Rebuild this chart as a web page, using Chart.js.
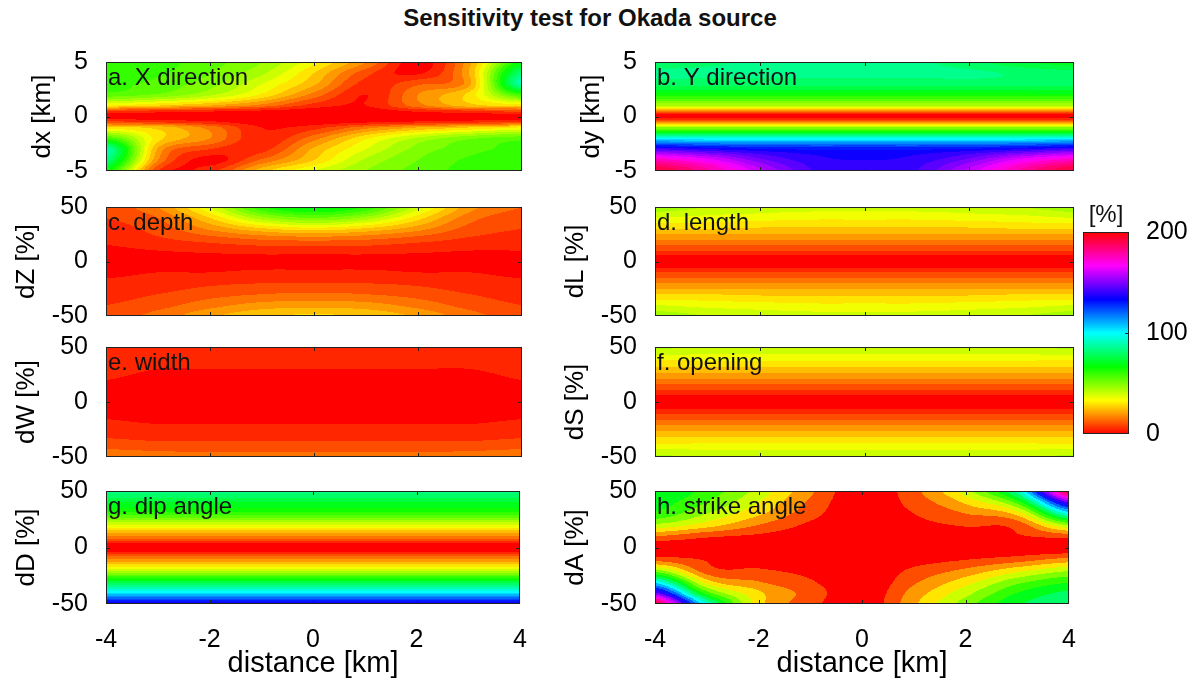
<!DOCTYPE html>
<html>
<head>
<meta charset="utf-8">
<script src="https://cdn.jsdelivr.net/npm/chart.js@4.4.0/dist/chart.umd.min.js"></script>
<style>
  body { margin: 0; background: #fff; width: 1197px; height: 691px; position: relative; overflow: hidden;
         font-family: "Liberation Sans", Arial, sans-serif; }
  canvas { position: absolute; }
  #title { position: absolute; left: 0; width: 1180px; top: 4px; text-align: center;
           font-weight: bold; font-size: 24px; color: #111; }
</style>
</head>
<body>
<div id="title">Sensitivity test for Okada source</div>
<script>
// grid axes
const distanceKm = [-4, -3, -2, -1, 0, 1, 2, 3, 4];
const offsetKm = [5, 4, 3, 2, 1, 0.5, 0, -0.5, -1, -2, -3, -4, -5];
const offsetPct = [50, 40, 30, 20, 10, 0, -10, -20, -30, -40, -50];
const distanceTicks = [-4, -2, 0, 2, 4];
const colorTicks = [0, 100, 200];

// misfit [%], rows top -> bottom, columns x = -4 .. 4
const xDirection = [
  [65, 62, 57, 50, 36, 20, 2, 24, 70],
  [64, 61, 55, 46, 30, 12, 4, 26, 85],
  [62, 58, 52, 40, 26, 8, 14, 24, 92],
  [58, 54, 46, 34, 18, 5, 20, 32, 62],
  [35, 30, 25, 18, 8, 5, 18, 28, 32],
  [10, 8, 6, 4, 2, 2, 6, 9, 12],
  [2, 2, 2, 1, 0, 1, 2, 2, 2],
  [12, 9, 6, 2, 2, 4, 6, 8, 10],
  [32, 28, 18, 5, 8, 18, 25, 30, 35],
  [62, 32, 20, 6, 18, 34, 46, 54, 58],
  [92, 24, 10, 8, 26, 40, 52, 58, 62],
  [85, 20, 3, 16, 30, 46, 55, 61, 64],
  [70, 10, 8, 28, 40, 50, 57, 62, 65]
];
const yDirection = [
  [82, 84, 86, 86, 86, 86, 82, 76, 72],
  [86, 86, 86, 86, 86, 86, 86, 84, 82],
  [82, 82, 82, 82, 82, 82, 82, 82, 82],
  [68, 68, 68, 68, 68, 68, 68, 68, 68],
  [45, 45, 45, 45, 45, 45, 45, 45, 45],
  [20, 20, 20, 20, 20, 20, 20, 20, 20],
  [1, 1, 1, 1, 1, 1, 1, 1, 1],
  [22, 22, 22, 22, 22, 22, 22, 22, 22],
  [50, 50, 50, 50, 50, 50, 50, 50, 50],
  [102, 100, 100, 100, 100, 100, 100, 100, 102],
  [145, 140, 136, 134, 134, 134, 136, 140, 145],
  [178, 168, 152, 142, 140, 142, 152, 168, 178],
  [196, 182, 162, 145, 142, 145, 162, 182, 196]
];
const depth = [
  [12, 20, 40, 64, 72, 64, 42, 22, 15],
  [10, 15, 30, 48, 55, 48, 32, 17, 12],
  [8, 12, 21, 29, 33, 29, 22, 13, 10],
  [6, 9, 12, 15, 16, 15, 12, 9, 8],
  [4, 5, 6, 7, 7, 7, 6, 5, 5],
  [3, 3, 3, 3, 3, 3, 3, 3, 3],
  [4, 5, 5, 6, 6, 6, 5, 5, 4],
  [6, 7, 9, 10, 10, 10, 9, 7, 6],
  [8, 10, 13, 15, 16, 15, 13, 10, 8],
  [10, 13, 18, 22, 23, 22, 18, 13, 10],
  [12, 17, 24, 29, 31, 29, 24, 17, 12]
];
const lengthPct = [
  [48, 45, 43, 42, 42, 42, 43, 45, 48],
  [40, 38, 37, 36, 36, 36, 37, 38, 40],
  [30, 30, 29, 29, 29, 29, 29, 30, 30],
  [20, 20, 20, 20, 20, 20, 20, 20, 20],
  [10, 10, 10, 10, 10, 10, 10, 10, 10],
  [1, 1, 1, 1, 1, 1, 1, 1, 1],
  [10, 10, 10, 10, 10, 10, 10, 10, 10],
  [20, 20, 20, 20, 20, 20, 20, 20, 20],
  [30, 30, 29, 29, 29, 29, 29, 30, 30],
  [40, 38, 37, 36, 36, 36, 37, 38, 40],
  [48, 45, 43, 42, 42, 42, 43, 45, 48]
];
const widthPct = [
  [9, 8, 7, 7, 7, 7, 7, 8, 10],
  [7, 6, 6, 6, 6, 6, 6, 6, 8],
  [6, 5, 5, 5, 5, 5, 5, 5, 6],
  [5, 4, 4, 4, 4, 4, 4, 4, 5],
  [4, 3, 3, 3, 3, 3, 3, 3, 4],
  [3, 2, 2, 2, 2, 2, 2, 2, 3],
  [4, 3, 3, 3, 3, 3, 3, 3, 4],
  [6, 5, 5, 5, 5, 5, 5, 5, 6],
  [9, 8, 8, 8, 8, 8, 8, 8, 9],
  [13, 12, 12, 12, 12, 12, 12, 12, 13],
  [20, 18, 17, 17, 17, 17, 17, 18, 20]
];
const opening = [
  [46, 45, 44, 44, 44, 44, 44, 45, 46],
  [37, 37, 37, 37, 37, 37, 37, 37, 37],
  [28, 28, 28, 28, 28, 28, 28, 28, 28],
  [19, 19, 19, 19, 19, 19, 19, 19, 19],
  [9, 9, 9, 9, 9, 9, 9, 9, 9],
  [1, 1, 1, 1, 1, 1, 1, 1, 1],
  [9, 9, 9, 9, 9, 9, 9, 9, 9],
  [19, 19, 19, 19, 19, 19, 19, 19, 19],
  [28, 28, 28, 28, 28, 28, 28, 28, 28],
  [37, 37, 37, 37, 37, 37, 37, 37, 37],
  [46, 45, 44, 44, 44, 44, 44, 45, 46]
];
const dipAngle = [
  [86, 86, 86, 86, 86, 86, 86, 86, 86],
  [75, 75, 75, 75, 75, 75, 75, 75, 75],
  [63, 63, 63, 63, 63, 63, 63, 63, 63],
  [40, 40, 40, 40, 40, 40, 40, 40, 40],
  [20, 20, 20, 20, 20, 20, 20, 20, 20],
  [1, 1, 1, 1, 1, 1, 1, 1, 1],
  [20, 20, 20, 20, 20, 20, 20, 20, 20],
  [42, 42, 42, 42, 42, 42, 42, 42, 42],
  [75, 75, 75, 75, 75, 75, 75, 75, 75],
  [105, 105, 105, 105, 105, 105, 105, 105, 105],
  [140, 140, 140, 140, 140, 140, 140, 140, 140]
];
const strikeAngle = [
  [80, 66, 46, 22, 2, 17, 45, 95, 200],
  [75, 60, 40, 18, 2, 14, 32, 64, 152],
  [68, 50, 32, 14, 1, 10, 20, 34, 103],
  [48, 35, 20, 8, 1, 7, 11, 14, 52],
  [20, 12, 8, 4, 1, 4, 6, 9, 14],
  [2, 2, 1, 1, 0, 1, 1, 2, 2],
  [14, 9, 6, 4, 1, 5, 9, 14, 22],
  [52, 14, 11, 7, 1, 12, 22, 36, 48],
  [103, 34, 20, 11, 1, 18, 35, 56, 68],
  [152, 64, 32, 16, 2, 24, 46, 70, 82],
  [200, 100, 35, 14, 2, 28, 55, 78, 88]
];

const panelLabels = ['a. X direction', 'b. Y direction', 'c. depth', 'd. length',
                     'e. width', 'f. opening', 'g. dip angle', 'h. strike angle'];
const yTitles = ['dx [km]', 'dy [km]', 'dZ [%]', 'dL [%]', 'dW [%]', 'dS [%]', 'dD [%]', 'dA [%]'];
const grids = [xDirection, yDirection, depth, lengthPct, widthPct, opening, dipAngle, strikeAngle];

Chart.defaults.font.family = '"Liberation Sans", Arial, sans-serif';
Chart.defaults.color = '#000';

// layout (pixels)
const colLeft = [0, 549];
const padRight = [18, 15];
const rowTop = [57, 202, 342, 486];
const rowBottom = [176, 321, 462, 604];

// matlab hsv colormap over 0..200 %
function hsv(v) {
  const h = Math.max(0, Math.min(v, 199.9)) / 200 * 6;
  const i = Math.floor(h), f = h - i, q = 1 - f;
  let c;
  switch (i) {
    case 0: c = [1, f, 0]; break;
    case 1: c = [q, 1, 0]; break;
    case 2: c = [0, 1, f]; break;
    case 3: c = [0, q, 1]; break;
    case 4: c = [f, 0, 1]; break;
    default: c = [1, 0, q];
  }
  return c.map(t => Math.round(t * 255));
}

// fractional index of v in a monotonic axis array
function fracIndex(arr, v) {
  const asc = arr[1] > arr[0];
  for (let k = 0; k < arr.length - 1; k++) {
    const a = arr[k], b = arr[k + 1];
    if (asc ? (v >= a && v <= b) : (v <= a && v >= b)) return k + (v - a) / (b - a);
  }
  const first = asc ? v < arr[0] : v > arr[0];
  return first ? 0 : arr.length - 1;
}

function cubic(p0, p1, p2, p3, t) {
  return p1 + 0.5 * t * (p2 - p0 + t * (2 * p0 - 5 * p1 + 4 * p2 - p3 + t * (3 * (p1 - p2) + p3 - p0)));
}

// smooth (catmull-rom) lookup in index space
function sample(grid, xs, ys, x, y) {
  const fi = fracIndex(xs, x), fj = fracIndex(ys, y);
  const i = Math.min(Math.floor(fi), xs.length - 2), j = Math.min(Math.floor(fj), ys.length - 2);
  const tx = fi - i, ty = fj - j;
  const nr = ys.length, nc = xs.length;
  const rowVal = r => {
    const row = grid[Math.max(0, Math.min(nr - 1, r))];
    const g = c => row[Math.max(0, Math.min(nc - 1, c))];
    return cubic(g(i - 1), g(i), g(i + 1), g(i + 2), tx);
  };
  return Math.max(0, cubic(rowVal(j - 1), rowVal(j), rowVal(j + 1), rowVal(j + 2), ty));
}

function heatPlugin(grid, ys, label, step) {
  return {
    id: 'heat',
    beforeDatasetsDraw(chart) {
      const {ctx, chartArea: a, scales: {x, y}} = chart;
      const w = Math.round(a.right - a.left), h = Math.round(a.bottom - a.top);
      const off = document.createElement('canvas');
      off.width = w; off.height = h;
      const octx = off.getContext('2d');
      const img = octx.createImageData(w, h);
      for (let j = 0; j < h; j++) {
        const yv = y.getValueForPixel(a.top + j + 0.5);
        for (let i = 0; i < w; i++) {
          const xv = x.getValueForPixel(a.left + i + 0.5);
          const v = sample(grid, distanceKm, ys, xv, yv);
          const rgb = hsv(Math.floor(v / step) * step);
          const o = (j * w + i) * 4;
          img.data[o] = rgb[0]; img.data[o + 1] = rgb[1]; img.data[o + 2] = rgb[2]; img.data[o + 3] = 255;
        }
      }
      octx.putImageData(img, 0, 0);
      ctx.drawImage(off, a.left, a.top);
    },
    afterDraw(chart) {
      const {ctx, chartArea: a, scales: {x, y}} = chart;
      ctx.save();
      ctx.strokeStyle = '#222';
      ctx.lineWidth = 1;
      ctx.strokeRect(a.left + 0.5, a.top + 0.5, a.right - a.left - 1, a.bottom - a.top - 1);
      ctx.beginPath();
      [-2, 0, 2].forEach(v => {
        const px = Math.round(x.getPixelForValue(v)) + 0.5;
        ctx.moveTo(px, a.bottom); ctx.lineTo(px, a.bottom - 4);
        ctx.moveTo(px, a.top); ctx.lineTo(px, a.top + 4);
      });
      const py = Math.round(y.getPixelForValue(0)) + 0.5;
      ctx.moveTo(a.left, py); ctx.lineTo(a.left + 4, py);
      ctx.moveTo(a.right, py); ctx.lineTo(a.right - 4, py);
      ctx.stroke();
      ctx.fillStyle = '#111';
      ctx.font = '24px "Liberation Sans", Arial, sans-serif';
      ctx.textBaseline = 'alphabetic';
      ctx.fillText(label, a.left + 2, a.top + 23);
      ctx.restore();
    }
  };
}

function makeCanvas(left, top, w, h) {
  const c = document.createElement('canvas');
  c.width = w; c.height = h;
  c.style.left = left + 'px'; c.style.top = top + 'px';
  c.style.width = w + 'px'; c.style.height = h + 'px';
  document.body.appendChild(c);
  return c;
}

grids.forEach((grid, n) => {
  const col = n % 2, row = Math.floor(n / 2);
  const km = row === 0;
  const ys = km ? offsetKm : offsetPct;
  const last = row === 3;
  const top = rowTop[row] - 20;
  const height = last ? 691 - top : rowBottom[row] - rowTop[row] + 40;
  const canvas = makeCanvas(colLeft[col], top, 540, height);
  const points = [];
  ys.forEach((yv, j) => distanceKm.forEach((xv, i) => points.push({x: xv, y: yv, v: grid[j][i]})));
  new Chart(canvas, {
    type: 'scatter',
    data: {datasets: [{data: points, pointRadius: 0}]},
    options: {
      responsive: false,
      animation: false,
      events: [],
      layout: {padding: {top: 20, bottom: last ? 0 : 20, left: 0, right: padRight[col]}},
      plugins: {legend: {display: false}, tooltip: {enabled: false}},
      scales: {
        x: {
          type: 'linear', min: -4, max: 4, display: last,
          afterBuildTicks: s => { s.ticks = distanceTicks.map(v => ({value: v})); },
          ticks: {padding: 13, font: {size: 25}, maxRotation: 0, autoSkip: false},
          grid: {display: false}, border: {display: false},
          title: {display: true, text: 'distance [km]', font: {size: 29, lineHeight: 1}, padding: {top: 0, bottom: 13}},
          afterFit: s => { if (last) s.height = 87; }
        },
        y: {
          type: 'linear', min: km ? -5 : -50, max: km ? 5 : 50,
          ticks: {stepSize: km ? 5 : 50, padding: 10, font: {size: 25}},
          grid: {display: false}, border: {display: false},
          title: {display: true, text: yTitles[n], font: {size: 26, lineHeight: 1}, padding: {top: km ? 30 : 14, bottom: 0}},
          afterFit: s => { s.width = 106; }
        }
      }
    },
    plugins: [heatPlugin(grid, ys, panelLabels[n], n === 7 ? 10 : 5)]
  });
});

// colour bar
const barCanvas = makeCanvas(1050, 190, 147, 270);
new Chart(barCanvas, {
  type: 'scatter',
  data: {datasets: [{data: colorTicks.map(v => ({x: 0.5, y: v})), pointRadius: 0}]},
  options: {
    responsive: false,
    animation: false,
    events: [],
    layout: {padding: {top: 42, bottom: 26, left: 33, right: 0}},
    plugins: {legend: {display: false}, tooltip: {enabled: false}},
    scales: {
      x: {type: 'linear', min: 0, max: 1, display: false},
      y: {
        type: 'linear', position: 'right', min: 0, max: 200,
        afterBuildTicks: s => { s.ticks = colorTicks.map(v => ({value: v})); },
        ticks: {padding: 9, font: {size: 25}},
        grid: {display: false}, border: {display: false},
        afterFit: s => { s.width = 68; }
      }
    }
  },
  plugins: [{
    id: 'bar',
    beforeDatasetsDraw(chart) {
      const {ctx, chartArea: a, scales: {y}} = chart;
      for (let py = Math.floor(a.top); py < a.bottom; py++) {
        const rgb = hsv(y.getValueForPixel(py + 0.5));
        ctx.fillStyle = `rgb(${rgb[0]},${rgb[1]},${rgb[2]})`;
        ctx.fillRect(a.left, py, a.right - a.left, 1);
      }
      ctx.save();
      ctx.strokeStyle = '#222';
      ctx.strokeRect(a.left + 0.5, a.top + 0.5, a.right - a.left - 1, a.bottom - a.top - 1);
      const p100 = Math.round(y.getPixelForValue(100)) + 0.5;
      ctx.beginPath();
      ctx.moveTo(a.right, p100); ctx.lineTo(a.right - 4, p100);
      ctx.stroke();
      ctx.fillStyle = '#111';
      ctx.font = '24px "Liberation Sans", Arial, sans-serif';
      ctx.textAlign = 'center';
      ctx.textBaseline = 'middle';
      ctx.fillText('[%]', (a.left + a.right) / 2, a.top - 17);
      ctx.restore();
    }
  }]
});
</script>
</body>
</html>
